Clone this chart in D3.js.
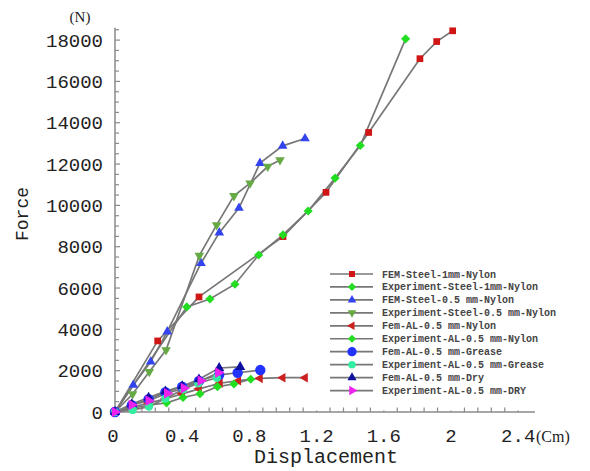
<!DOCTYPE html>
<html><head><meta charset="utf-8">
<script src="https://cdn.jsdelivr.net/npm/d3@7"></script>
<style>body{margin:0;background:#fff}</style>
</head><body><svg id="c" width="590" height="471"></svg>
<script>
// ---- data ----
const seriesNames = ["FEM-Steel-1mm-Nylon","Experiment-Steel-1mm-Nylon","FEM-Steel-0.5 mm-Nylon","Experiment-Steel-0.5 mm-Nylon","Fem-AL-0.5 mm-Nylon","Experiment-AL-0.5 mm-Nylon","Fem-AL-0.5 mm-Grease","Experiment-AL-0.5 mm-Grease","Fem-AL-0.5 mm-Dry","Experiment-AL-0.5 mm-DRY"];
const femSteel1mmX = [0, 0.254, 0.5, 1.0, 1.256, 1.51, 1.815, 1.915, 2.01];
const femSteel1mmY = [0, 3440, 5570, 8490, 10630, 13530, 17100, 17930, 18450];
const expSteel1mmX = [0, 0.427, 0.565, 0.714, 0.855, 1.0, 1.15, 1.31, 1.46, 1.73];
const expSteel1mmY = [0, 5085, 5470, 6185, 7600, 8570, 9730, 11320, 12900, 18060];
const femSteel05X = [0, 0.109, 0.2125, 0.311, 0.512, 0.621, 0.738, 0.863, 0.998, 1.131];
const femSteel05Y = [0, 1310, 2435, 3890, 7200, 8680, 9870, 12045, 12880, 13240];
const expSteel05X = [0, 0.105, 0.204, 0.304, 0.502, 0.605, 0.708, 0.804, 0.909, 0.982];
const expSteel05Y = [0, 870, 1950, 3000, 7570, 9055, 10460, 11075, 11880, 12200];
const femAlNylonX = [0, 0.1, 0.2, 0.3, 0.4, 0.5, 0.625, 0.734, 0.863, 0.998, 1.131];
const femAlNylonY = [0, 230, 430, 640, 880, 1120, 1390, 1515, 1630, 1660, 1660];
const expAlNylonX = [0, 0.103, 0.204, 0.307, 0.405, 0.506, 0.61, 0.708, 0.808];
const expAlNylonY = [0, 180, 340, 445, 700, 885, 1225, 1355, 1585];
const femAlGreaseX = [0, 0.1, 0.2, 0.3, 0.4, 0.5, 0.62, 0.73, 0.865];
const femAlGreaseY = [0, 330, 620, 960, 1220, 1500, 1800, 1900, 2030];
const expAlGreaseX = [0, 0.105, 0.202, 0.3, 0.407, 0.496, 0.606];
const expAlGreaseY = [0, 100, 260, 650, 1100, 1390, 1660];
const femAlDryX = [0, 0.1, 0.2, 0.3, 0.4, 0.5, 0.62, 0.745];
const femAlDryY = [0, 380, 700, 1000, 1250, 1580, 2130, 2180];
const expAlDryX = [0, 0.1, 0.2, 0.31, 0.41, 0.51, 0.615];
const expAlDryY = [0, 340, 547, 905, 1150, 1515, 1900];
const xTickValues = [0, 0.4, 0.8, 1.2, 1.6, 2, 2.4];
const yTickValues = [0, 2000, 4000, 6000, 8000, 10000, 12000, 14000, 16000, 18000];

const seriesX = [femSteel1mmX, expSteel1mmX, femSteel05X, expSteel05X, femAlNylonX, expAlNylonX, femAlGreaseX, expAlGreaseX, femAlDryX, expAlDryX];
const seriesY = [femSteel1mmY, expSteel1mmY, femSteel05Y, expSteel05Y, femAlNylonY, expAlNylonY, femAlGreaseY, expAlGreaseY, femAlDryY, expAlDryY];

// ---- styles ----
const colors = ["#d01515","#22dd22","#3344ee","#66aa44","#cc2020","#22dd22","#2233ff","#33eea0","#1010a0","#ee22ee"];
const shapes = ["square","diamond","triUp","triDown","triLeft","diamond","circle","circle","triUp","triRight"];
const sizes  = [45, 42, 40, 40, 40, 42, 85, 55, 45, 50];

const svg = d3.select("#c");
const x = d3.scaleLinear().domain([0, 2.5]).range([115, 535]);
const y = d3.scaleLinear().domain([0, 18600]).range([412, 27.7]);

function symPath(shape, size) {
  const map = {square: d3.symbolSquare, diamond: d3.symbolSquare, circle: d3.symbolCircle,
    triUp: d3.symbolTriangle, triDown: d3.symbolTriangle, triLeft: d3.symbolTriangle, triRight: d3.symbolTriangle};
  return d3.symbol().type(map[shape]).size(size)();
}
const rot = {square:0, diamond:45, circle:0, triUp:0, triDown:180, triLeft:-90, triRight:90};

// axes
const axisColor = "#8a8a8a";
const gx = svg.append("g");
gx.append("line").attr("x1", x(0)).attr("x2", x(2.5)).attr("y1", y(0)).attr("y2", y(0))
  .attr("stroke", axisColor).attr("stroke-width", 1.5);
const xMinor = d3.range(0, 31).map(i => i * 0.08).filter(v => v <= 2.49);
gx.selectAll(".xt").data(xMinor).join("line")
  .attr("x1", d => x(d)).attr("x2", d => x(d))
  .attr("y1", y(0)).attr("y2", (d, i) => y(0) - (i % 5 === 0 ? 1.5 : 4.5))
  .attr("stroke", axisColor).attr("stroke-width", 1.2);
gx.selectAll(".xl").data(xTickValues).join("text")
  .attr("x", d => x(d) - (d === 0 ? 2 : 0)).attr("y", 442)
  .attr("text-anchor", "middle")
  .attr("font-family", "Liberation Mono, monospace").attr("font-size", 19).attr("fill", "#222")
  .text(d => d3.format("~g")(d));

const gy = svg.append("g");
gy.append("line").attr("x1", x(0)).attr("x2", x(0)).attr("y1", y(0)).attr("y2", y(18600))
  .attr("stroke", axisColor).attr("stroke-width", 1.5);
const yMinor = d3.range(0, 38).map(i => i * 500);
gy.selectAll(".yt").data(yMinor).join("line")
  .attr("x1", x(0)).attr("x2", (d, i) => x(0) + (i % 4 === 0 ? 5 : 4))
  .attr("y1", d => y(d)).attr("y2", d => y(d))
  .attr("stroke", axisColor).attr("stroke-width", 1.2);
gy.selectAll(".yl").data(yTickValues).join("text")
  .attr("x", 103).attr("y", d => y(d)).attr("dy", "0.35em")
  .attr("text-anchor", "end")
  .attr("font-family", "Liberation Mono, monospace").attr("font-size", 19).attr("fill", "#222")
  .text(d => d);

svg.append("text").attr("x", 80).attr("y", 22).attr("text-anchor", "middle")
  .attr("font-family", "Liberation Serif, serif").attr("font-size", 15).attr("fill", "#222").text("(N)");
svg.append("text").attr("x", 536).attr("y", 442)
  .attr("font-family", "Liberation Serif, serif").attr("font-size", 16).attr("fill", "#222").text("(Cm)");
svg.append("text").attr("transform", "translate(28,214) rotate(-90)").attr("text-anchor", "middle")
  .attr("font-family", "Liberation Mono, monospace").attr("font-size", 18).attr("fill", "#222").text("Force");
svg.append("text").attr("x", 326).attr("y", 463).attr("text-anchor", "middle")
  .attr("font-family", "Liberation Mono, monospace").attr("font-size", 20).attr("fill", "#222").text("Displacement");

// lines
const line = d3.line().x(d => x(d[0])).y(d => y(d[1]));
const gl = svg.append("g");
seriesNames.forEach((n, s) => {
  const pts = seriesX[s].map((v, i) => [v, seriesY[s][i]]);
  gl.append("path").attr("d", line(pts)).attr("fill", "none")
    .attr("stroke", "#777").attr("stroke-width", 1.7);
});
// markers
const gm = svg.append("g");
seriesNames.forEach((n, s) => {
  const pts = seriesX[s].map((v, i) => [v, seriesY[s][i]]);
  gm.selectAll(".m" + s).data(pts).join("path")
    .attr("d", symPath(shapes[s], sizes[s]))
    .attr("transform", d => `translate(${x(d[0])},${y(d[1])}) rotate(${rot[shapes[s]]})`)
    .attr("fill", colors[s]);
});

// legend
const lg = svg.append("g");
seriesNames.forEach((n, s) => {
  const ly = 274 + s * 12.95;
  lg.append("line").attr("x1", 330).attr("x2", 373).attr("y1", ly).attr("y2", ly)
    .attr("stroke", "#777").attr("stroke-width", 1.7);
  lg.append("path").attr("d", symPath(shapes[s], sizes[s] * 0.8))
    .attr("transform", `translate(352,${ly}) rotate(${rot[shapes[s]]})`).attr("fill", colors[s]);
  lg.append("text").attr("x", 382).attr("y", ly).attr("dy", "0.35em")
    .attr("font-family", "Liberation Mono, monospace").attr("font-size", 10).attr("font-weight", "bold")
    .attr("fill", "#444").text(n);
});
</script></body></html>
